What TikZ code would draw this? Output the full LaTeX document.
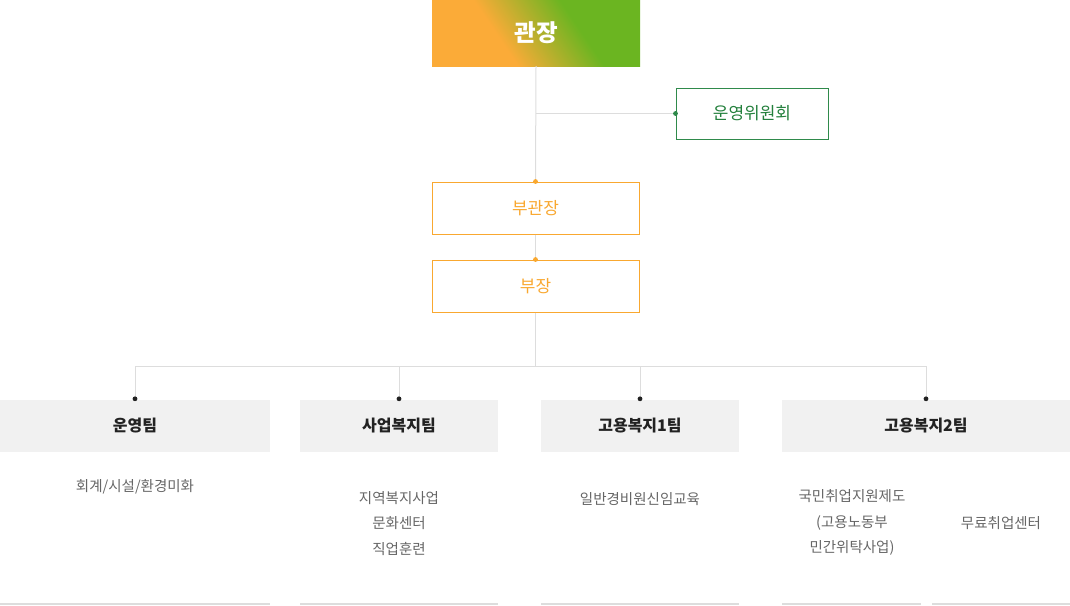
\documentclass[tikz,border=0pt]{standalone}
\usepackage{fontspec}
\setmainfont{Noto Sans CJK KR}
\usetikzlibrary{positioning}

\definecolor{orgC}{HTML}{FBAB38}
\definecolor{grnC}{HTML}{6BB521}
\definecolor{subOrg}{HTML}{F9A830}
\definecolor{comGrn}{HTML}{2F8A4B}
\definecolor{comTxt}{HTML}{23803C}
\definecolor{lineGray}{HTML}{DDDDDD}
\definecolor{teamFill}{HTML}{F1F1F1}
\definecolor{darkTxt}{HTML}{222222}
\definecolor{bodyTxt}{HTML}{666666}

\pgfdeclarehorizontalshading{headgrad}{100bp}{color(0bp)=(orgC); color(43bp)=(orgC); color(58bp)=(grnC); color(100bp)=(grnC)}

\tikzset{
  conn/.style={draw=lineGray, line width=1pt},
  headbox/.style={minimum width=208pt, minimum height=66pt, inner sep=0pt, text=white,
    font=\fontsize{23.5}{28}\selectfont\bfseries,
    path picture={\shade[shading=headgrad, shading angle=34]
      ([xshift=-120pt,yshift=-120pt]path picture bounding box.center) rectangle
      ([xshift=120pt,yshift=120pt]path picture bounding box.center);}},
  combox/.style={draw=comGrn, line width=1pt, fill=white, minimum width=152pt, minimum height=51pt,
    inner sep=0pt, text=comTxt, font=\fontsize{17}{20}\selectfont},
  subbox/.style={draw=subOrg, line width=1pt, fill=white, minimum width=207pt, minimum height=52pt,
    inner sep=0pt, text=subOrg, font=\fontsize{17}{20}\selectfont},
  teambox/.style={fill=teamFill, minimum height=52pt, inner sep=0pt, text=darkTxt,
    font=\fontsize{16}{20}\selectfont\bfseries},
  bodytxt/.style={align=center, inner sep=0pt, text=bodyTxt, font=\fontsize{14.5}{25.5}\selectfont},
  baseline/.style={draw=lineGray, line width=1.5pt}
}

\begin{document}
\begin{tikzpicture}[x=1pt,y=1pt]
    \useasboundingbox (0,0) rectangle (1070,-605);

    % 상단
    \node[headbox] (head) at (536,-33) {관장};
    \node[combox] (com) at (752,-113.5) {운영위원회};
    \node[subbox] (vice) at (535.5,-208) {부관장};
    \node[subbox] (dept) at (535.5,-286) {부장};

    % 팀
    \node[teambox, minimum width=270pt] (t1) at (135,-426) {운영팀};
    \node[teambox, minimum width=198pt] (t2) at (399,-426) {사업복지팀};
    \node[teambox, minimum width=198pt] (t3) at (640,-426) {고용복지1팀};
    \node[teambox, minimum width=288pt] (t4) at (926,-426) {고용복지2팀};

    % 연결선
    \coordinate (split) at (head.south |- com.west);
    \coordinate (bus) at (535.5,-366);
    \draw[conn] (head.south) -- (vice.north);
    \draw[conn] (split) -- (com.west);
    \draw[conn] (vice.south) -- (dept.north);
    \draw[conn] (dept.south) -- (bus);
    \draw[conn] (t1.north |- bus) -- (t4.north |- bus);
    \foreach \t in {t1,t2,t3,t4} {
        \draw[conn] (\t.north |- bus) -- (\t.north);
        \fill[darkTxt] ([yshift=1pt]\t.north) circle (2.4pt);
    }

    % 점
    \fill[comGrn] (com.west) circle (2.4pt);
    \fill[subOrg] (vice.north) circle (2.4pt);
    \fill[subOrg] (dept.north) circle (2.4pt);

    % 업무
    \node[bodytxt] (b1) at (135,-487) {회계/시설/환경미화};
    \node[bodytxt] (b2) at (399,-523.5) {지역복지사업\\문화센터\\직업훈련};
    \node[bodytxt] (b3) at (640,-499) {일반경비원신임교육};
    \node[bodytxt] (b4) at (852,-522.5) {국민취업지원제도\\(고용노동부\\민간위탁사업)};
    \node[bodytxt] (b5) at (1001,-523) {무료취업센터};

    % 하단선
    \draw[baseline] (0,-604) -- (270,-604);
    \draw[baseline] (300,-604) -- (498,-604);
    \draw[baseline] (541,-604) -- (739,-604);
    \draw[baseline] (782,-604) -- (921,-604);
    \draw[baseline] (932,-604) -- (1070,-604);
\end{tikzpicture}
\end{document}
